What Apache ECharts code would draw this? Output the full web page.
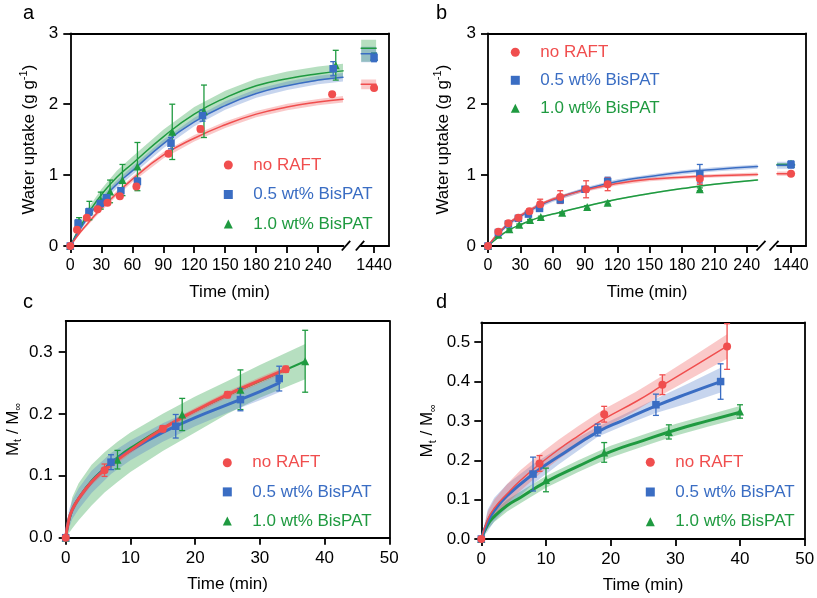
<!DOCTYPE html>
<html><head><meta charset="utf-8">
<script src="https://cdn.jsdelivr.net/npm/echarts@6/dist/echarts.min.js"></script>
<style>html,body{margin:0;padding:0;background:#fff}#c{width:817px;height:598px}</style>
</head><body><div id="c"></div>
<script>
// ---------------- DATA ----------------
const LEGEND_NAMES = ['no RAFT', '0.5 wt% BisPAT', '1.0 wt% BisPAT'];
const TIME_TICKS = [0, 30, 60, 90, 120, 150, 180, 210, 240];
const LONG_TICKS = [1440];
const CD_X_TICKS = [0, 10, 20, 30, 40, 50];
const AB_Y_TICKS = [0, 1, 2, 3];
const C_Y_TICKS = [0, 0.1, 0.2, 0.3];
const D_Y_TICKS = [0, 0.1, 0.2, 0.3, 0.4, 0.5];

// panel a : measured points
const aRedT = [0, 6.5, 16, 26.5, 36, 48, 64, 95, 126, 253.5];
const aRedY = [0, 0.23, 0.40, 0.52, 0.61, 0.70, 0.84, 1.30, 1.65, 2.14];
const aRedE = [0, 0.02, 0.02, 0.02, 0.02, 0.02, 0.03, 0.03, 0.04, 0.02];
const aBlueT = [0, 7.5, 18, 29, 35, 49, 65, 97.5, 128, 254.5];
const aBlueY = [0, 0.32, 0.48, 0.60, 0.68, 0.78, 0.91, 1.45, 1.84, 2.50];
const aBlueE = [0, 0.05, 0.05, 0.04, 0.04, 0.04, 0.05, 0.08, 0.08, 0.10];
const aGreenT = [0, 8.5, 18.5, 29.5, 38.5, 50.5, 65, 98.7, 129.4, 257];
const aGreenY = [0, 0.35, 0.50, 0.64, 0.77, 0.93, 1.12, 1.61, 1.90, 2.55];
const aGreenE = [0, 0.05, 0.13, 0.12, 0.16, 0.22, 0.34, 0.39, 0.37, 0.21];
// panel a : fitted curves and confidence bands
const aFitT = [0, 10, 20, 30, 45, 60, 90, 120, 150, 180, 210, 240, 264];
const aRedFit = [0, 0.20, 0.37, 0.53, 0.74, 0.94, 1.28, 1.52, 1.71, 1.86, 1.96, 2.03, 2.07];
const aRedLo = [0, 0.18, 0.34, 0.495, 0.70, 0.90, 1.235, 1.475, 1.665, 1.815, 1.915, 1.985, 2.025];
const aRedHi = [0, 0.22, 0.40, 0.565, 0.78, 0.98, 1.325, 1.565, 1.755, 1.905, 2.005, 2.075, 2.115];
const aBlueFit = [0, 0.25, 0.47, 0.64, 0.87, 1.06, 1.44, 1.75, 1.98, 2.15, 2.26, 2.34, 2.38];
const aBlueLo = [0, 0.22, 0.43, 0.59, 0.815, 1.0, 1.38, 1.69, 1.92, 2.09, 2.20, 2.28, 2.32];
const aBlueHi = [0, 0.28, 0.51, 0.69, 0.925, 1.12, 1.50, 1.81, 2.04, 2.21, 2.32, 2.40, 2.44];
const aGreenFit = [0, 0.28, 0.52, 0.72, 0.97, 1.16, 1.54, 1.86, 2.09, 2.26, 2.36, 2.43, 2.47];
const aGreenLo = [0, 0.23, 0.45, 0.64, 0.88, 1.06, 1.44, 1.76, 1.99, 2.16, 2.26, 2.33, 2.37];
const aGreenHi = [0, 0.33, 0.59, 0.80, 1.06, 1.26, 1.64, 1.96, 2.19, 2.36, 2.46, 2.53, 2.57];
// panel a : 1440 min segment
const aLongT = [1440];
const aLongRedY = [2.23], aLongRedE = [0.01];
const aLongBlueY = [2.66], aLongBlueE = [0.06];
const aLongGreenY = [2.67], aLongGreenE = [0.05];
const aPlatT = [1402, 1446];
const aPlatRedFit = [2.28, 2.28], aPlatRedLo = [2.21, 2.21], aPlatRedHi = [2.35, 2.35];
const aPlatBlueFit = [2.71, 2.71], aPlatBlueLo = [2.59, 2.59], aPlatBlueHi = [2.81, 2.81];
const aPlatGreenFit = [2.79, 2.79], aPlatGreenLo = [2.60, 2.60], aPlatGreenHi = [2.91, 2.91];

// panel b : measured points
const bRedT = [0, 9.6, 18.9, 28.2, 38.4, 48.4, 67, 91, 111, 196.5];
const bRedY = [0, 0.20, 0.32, 0.40, 0.49, 0.59, 0.69, 0.80, 0.87, 0.95];
const bRedE = [0, 0.02, 0.02, 0.02, 0.03, 0.07, 0.09, 0.12, 0.09, 0.08];
const bBlueT = [0, 9.6, 18.9, 28.2, 37.5, 47.8, 67, 90, 111, 196.5];
const bBlueY = [0, 0.19, 0.31, 0.39, 0.45, 0.53, 0.65, 0.80, 0.91, 1.02];
const bBlueE = [0, 0.02, 0.02, 0.02, 0.03, 0.03, 0.04, 0.03, 0.06, 0.13];
const bGreenT = [0, 9.6, 19.8, 29, 39, 49, 68.8, 92, 111, 196.5];
const bGreenY = [0, 0.16, 0.235, 0.30, 0.365, 0.41, 0.47, 0.55, 0.61, 0.80];
const bGreenE = [0, 0.01, 0.01, 0.01, 0.01, 0.01, 0.01, 0.02, 0.02, 0.02];
// panel b : fits
const bFitT = [0, 10, 20, 30, 45, 60, 90, 120, 150, 180, 210, 250];
const bRedFit = [0, 0.19, 0.33, 0.43, 0.56, 0.66, 0.79, 0.88, 0.94, 0.97, 0.99, 1.01];
const bRedLo = [0, 0.17, 0.305, 0.405, 0.535, 0.635, 0.765, 0.855, 0.915, 0.945, 0.965, 0.985];
const bRedHi = [0, 0.21, 0.355, 0.455, 0.585, 0.685, 0.815, 0.905, 0.965, 0.995, 1.015, 1.035];
const bBlueFit = [0, 0.18, 0.32, 0.42, 0.55, 0.65, 0.80, 0.91, 0.98, 1.04, 1.08, 1.12];
const bBlueLo = [0, 0.16, 0.295, 0.395, 0.52, 0.62, 0.77, 0.88, 0.95, 1.01, 1.05, 1.09];
const bBlueHi = [0, 0.20, 0.345, 0.445, 0.58, 0.68, 0.83, 0.94, 1.01, 1.07, 1.11, 1.15];
const bGreenFit = [0, 0.13, 0.23, 0.30, 0.39, 0.45, 0.56, 0.66, 0.74, 0.81, 0.87, 0.93];
const bGreenLo = [0, 0.12, 0.22, 0.29, 0.38, 0.44, 0.55, 0.65, 0.73, 0.80, 0.86, 0.92];
const bGreenHi = [0, 0.14, 0.24, 0.31, 0.40, 0.46, 0.57, 0.67, 0.75, 0.82, 0.88, 0.94];
// panel b : 1440 min segment
const bLongT = [1440];
const bLongRedY = [1.02], bLongRedE = [0.01];
const bLongBlueY = [1.15], bLongBlueE = [0.05];
const bLongGreenY = [1.16], bLongGreenE = [0.02];
const bPlatT = [1400, 1450];
const bPlatRedFit = [1.02, 1.02], bPlatRedLo = [0.99, 0.99], bPlatRedHi = [1.05, 1.05];
const bPlatBlueFit = [1.14, 1.14], bPlatBlueLo = [1.09, 1.09], bPlatBlueHi = [1.19, 1.19];
const bPlatGreenFit = [1.15, 1.15], bPlatGreenLo = [1.12, 1.12], bPlatGreenHi = [1.17, 1.17];

// panel c
const cRedT = [0, 6, 15, 25, 34];
const cRedY = [0, 0.109, 0.176, 0.231, 0.272];
const cRedE = [0, 0.010, 0.005, 0.005, 0.005];
const cBlueT = [0, 7, 17, 27, 33];
const cBlueY = [0, 0.122, 0.180, 0.223, 0.257];
const cBlueE = [0, 0.012, 0.019, 0.018, 0.020];
const cGreenT = [0, 8, 18, 27, 37];
const cGreenY = [0, 0.126, 0.199, 0.239, 0.285];
const cGreenE = [0, 0.015, 0.026, 0.032, 0.050];
const cRedFitT = [0, 0.5, 1, 2, 4, 6, 10, 15, 20, 25, 30, 34];
const cRedFit = [0, 0.030, 0.045, 0.063, 0.090, 0.109, 0.141, 0.176, 0.205, 0.231, 0.254, 0.272];
const cRedLo = [0, 0.026, 0.040, 0.058, 0.085, 0.104, 0.136, 0.171, 0.200, 0.226, 0.249, 0.267];
const cRedHi = [0, 0.034, 0.050, 0.068, 0.095, 0.114, 0.146, 0.181, 0.210, 0.236, 0.259, 0.277];
const cBlueFitT = [0, 0.5, 1, 2, 4, 7, 10, 15, 20, 25, 30, 33];
const cBlueFit = [0, 0.030, 0.045, 0.063, 0.090, 0.120, 0.141, 0.170, 0.194, 0.215, 0.236, 0.250];
const cBlueLo = [0, 0.015, 0.030, 0.046, 0.072, 0.103, 0.125, 0.155, 0.180, 0.202, 0.222, 0.235];
const cBlueHi = [0, 0.045, 0.060, 0.080, 0.108, 0.137, 0.157, 0.185, 0.208, 0.228, 0.250, 0.265];
const cGreenFitT = [0, 1, 2, 4, 6, 8, 10, 15, 20, 25, 30, 37];
const cGreenFit = [0, 0.045, 0.064, 0.092, 0.112, 0.130, 0.145, 0.177, 0.205, 0.230, 0.253, 0.285];
const cGreenLo = [0, 0.015, 0.028, 0.052, 0.073, 0.090, 0.106, 0.140, 0.170, 0.200, 0.226, 0.256];
const cGreenHi = [0, 0.065, 0.088, 0.118, 0.138, 0.155, 0.170, 0.200, 0.228, 0.253, 0.279, 0.313];

// panel d
const dRedT = [0, 9, 19, 28, 38];
const dRedY = [0, 0.192, 0.317, 0.392, 0.489];
const dRedE = [0, 0.020, 0.020, 0.025, 0.058];
const dBlueT = [0, 8, 18, 27, 37];
const dBlueY = [0, 0.165, 0.277, 0.341, 0.400];
const dBlueE = [0, 0.043, 0.015, 0.027, 0.045];
const dGreenT = [0, 10, 19, 29, 40];
const dGreenY = [0, 0.150, 0.220, 0.272, 0.324];
const dGreenE = [0, 0.030, 0.025, 0.018, 0.017];
const dRedFitT = [0, 1, 2, 4, 6, 9, 12, 15, 19, 24, 28, 33, 38];
const dRedFit = [0, 0.050, 0.078, 0.115, 0.148, 0.190, 0.228, 0.262, 0.305, 0.350, 0.390, 0.440, 0.490];
const dRedLo = [0, 0.030, 0.055, 0.090, 0.122, 0.165, 0.203, 0.237, 0.282, 0.327, 0.367, 0.413, 0.458];
const dRedHi = [0, 0.070, 0.100, 0.140, 0.174, 0.215, 0.253, 0.287, 0.330, 0.375, 0.415, 0.467, 0.520];
const dBlueFitT = [0, 1, 2, 4, 8, 12, 18, 22, 27, 32, 37];
const dBlueFit = [0, 0.045, 0.072, 0.110, 0.165, 0.210, 0.272, 0.302, 0.338, 0.370, 0.400];
const dBlueLo = [0, 0.020, 0.045, 0.080, 0.140, 0.190, 0.260, 0.288, 0.320, 0.345, 0.372];
const dBlueHi = [0, 0.075, 0.105, 0.140, 0.190, 0.232, 0.285, 0.316, 0.356, 0.395, 0.435];
const dGreenFitT = [0, 1, 2, 4, 6, 10, 15, 20, 25, 30, 35, 40];
const dGreenFit = [0, 0.037, 0.057, 0.085, 0.105, 0.145, 0.185, 0.222, 0.250, 0.277, 0.300, 0.322];
const dGreenLo = [0, 0.025, 0.043, 0.070, 0.090, 0.130, 0.170, 0.207, 0.235, 0.262, 0.285, 0.307];
const dGreenHi = [0, 0.050, 0.072, 0.100, 0.120, 0.160, 0.200, 0.237, 0.265, 0.292, 0.315, 0.338];

// ---------------- STYLE ----------------
const FONT = "'Liberation Sans', Arial, Helvetica, sans-serif";
const RED = '#f04e4e', BLUE = '#3a6dc3', GREEN = '#1f9a40';
const RED_BAND = 'rgba(240,90,90,0.33)', BLUE_BAND = 'rgba(70,115,200,0.30)', GREEN_BAND = 'rgba(40,160,70,0.34)';

function pts(t, y) { return t.map((x, i) => [x, y[i]]); }

function band(gi, t, lo, hi, fill) {
  return {
    type: 'custom', xAxisIndex: gi, yAxisIndex: gi, silent: true, z: 1, clip: true,
    data: t.map((x, i) => [x, lo[i], hi[i]]),
    encode: { x: 0, y: [1, 2] },
    renderItem: function (params, api) {
      if (params.dataIndex !== 0) return null;
      const up = [], dn = [];
      for (let i = 0; i < t.length; i++) {
        up.push(api.coord([t[i], hi[i]]));
        dn.push(api.coord([t[i], lo[i]]));
      }
      return { type: 'polygon', shape: { points: up.concat(dn.reverse()) }, style: { fill: fill } };
    }
  };
}
function fit(gi, t, y, color, w) {
  return {
    type: 'line', xAxisIndex: gi, yAxisIndex: gi, data: pts(t, y), showSymbol: false, symbol: 'none',
    smooth: 0.5, lineStyle: { color: color, width: w, cap: 'round', join: 'round' }, z: 2, silent: true
  };
}
function ebar(gi, t, y, e, color) {
  return {
    type: 'custom', xAxisIndex: gi, yAxisIndex: gi, z: 3, silent: true, clip: false,
    data: t.map((x, i) => [x, y[i] - e[i], y[i] + e[i]]),
    encode: { x: 0, y: [1, 2] },
    renderItem: function (params, api) {
      const x = api.value(0), lo = api.value(1), hi = api.value(2);
      if (hi - lo <= 0) return null;
      const p1 = api.coord([x, lo]), p2 = api.coord([x, hi]);
      const w = 3, s = { stroke: color, lineWidth: 1.3 };
      return {
        type: 'group', children: [
          { type: 'line', shape: { x1: p1[0], y1: p1[1], x2: p2[0], y2: p2[1] }, style: s },
          { type: 'line', shape: { x1: p1[0] - w, y1: p1[1], x2: p1[0] + w, y2: p1[1] }, style: s },
          { type: 'line', shape: { x1: p2[0] - w, y1: p2[1], x2: p2[0] + w, y2: p2[1] }, style: s }
        ]
      };
    }
  };
}
function marks(gi, name, t, y, sym, color, size) {
  return {
    type: 'scatter', name: name, xAxisIndex: gi, yAxisIndex: gi, data: pts(t, y), symbol: sym,
    symbolSize: size, itemStyle: { color: color, opacity: 1 }, z: 4, clip: false
  };
}

const LINE = { show: true, onZero: false, lineStyle: { color: '#000', width: 1.8 } };
const NAME_STYLE = { fontSize: 17, color: '#000', fontFamily: FONT };
function valueAxis(o) {
  return Object.assign({
    type: 'value', splitLine: { show: false }, axisLine: LINE,
    axisTick: { show: false }, axisLabel: { show: false }
  }, o);
}
function tickAxis(o, vals, margin, fmt, fs) {
  return valueAxis(Object.assign({
    axisTick: { show: true, length: 7, lineStyle: { color: '#000', width: 1.8 }, customValues: vals },
    axisLabel: { show: true, customValues: vals, margin: margin, fontSize: fs || 16, color: '#000', fontFamily: FONT, formatter: fmt }
  }, o));
}
const fmt1 = v => Number(v).toFixed(1);
const fmt0 = v => String(v);

const WU_NAME = '{n|Water uptake (g g}{s|-1}{n|)}';
const WU_STYLE = {
  fontSize: 17, color: '#000', fontFamily: FONT,
  rich: {
    n: { fontSize: 17, lineHeight: 22, color: '#000', fontFamily: FONT },
    s: { fontSize: 11, lineHeight: 11, verticalAlign: 'top', color: '#000', fontFamily: FONT }
  }
};
const MT_NAME = '{n|M}{b|t}{n| / M}{b|∞}';
const MT_STYLE = {
  fontSize: 17, color: '#000', fontFamily: FONT,
  rich: {
    n: { fontSize: 17, lineHeight: 21, color: '#000', fontFamily: FONT },
    b: { fontSize: 11, lineHeight: 11, verticalAlign: 'bottom', color: '#000', fontFamily: FONT }
  }
};

const grids = [
  { left: 70.3, top: 33.3, width: 318.7, height: 212.7 },  // 0 frame a
  { left: 70.3, top: 33.3, width: 273.2, height: 212.7 },  // 1 a main
  { left: 360.5, top: 33.3, width: 28.5, height: 212.7 },  // 2 a 1440
  { left: 488, top: 33.3, width: 318, height: 212.7 },     // 3 frame b
  { left: 488, top: 33.3, width: 269.5, height: 212.7 },   // 4 b main
  { left: 777, top: 33.3, width: 29, height: 212.7 },      // 5 b 1440
  { left: 65.7, top: 321, width: 323.6, height: 216.7 },   // 6 c
  { left: 481.3, top: 322.5, width: 323.4, height: 216.5 } // 7 d
].map(g => Object.assign({ containLabel: false, outerBoundsMode: 'none', show: false }, g));

const xAxes = [
  valueAxis({ gridIndex: 0, min: 0, max: 1, axisLine: { show: false }, name: 'Time (min)', nameLocation: 'middle', nameGap: 38, nameTextStyle: NAME_STYLE }),
  tickAxis({ gridIndex: 1, min: 0, max: 264.5 }, TIME_TICKS, 12, fmt0),
  tickAxis({ gridIndex: 2, min: 1400, max: 1484 }, LONG_TICKS, 12, fmt0),
  valueAxis({ gridIndex: 3, min: 0, max: 1, axisLine: { show: false }, name: 'Time (min)', nameLocation: 'middle', nameGap: 38, nameTextStyle: NAME_STYLE }),
  tickAxis({ gridIndex: 4, min: 0, max: 250 }, TIME_TICKS, 12, fmt0),
  tickAxis({ gridIndex: 5, min: 1400, max: 1483 }, LONG_TICKS, 12, fmt0),
  tickAxis({ gridIndex: 6, min: 0, max: 50, name: 'Time (min)', nameLocation: 'middle', nameGap: 38, nameTextStyle: NAME_STYLE }, CD_X_TICKS, 12, fmt0, 17),
  tickAxis({ gridIndex: 7, min: 0, max: 50, name: 'Time (min)', nameLocation: 'middle', nameGap: 38, nameTextStyle: NAME_STYLE }, CD_X_TICKS, 12, fmt0, 17),
  valueAxis({ gridIndex: 0, min: 0, max: 1, position: 'top' }),
  valueAxis({ gridIndex: 3, min: 0, max: 1, position: 'top' }),
  valueAxis({ gridIndex: 6, min: 0, max: 1, position: 'top' }),
  valueAxis({ gridIndex: 7, min: 0, max: 1, position: 'top' })
];
const yAxes = [
  valueAxis({ gridIndex: 0, min: 0, max: 3, position: 'right' }),
  tickAxis({ gridIndex: 1, min: 0, max: 3, position: 'left', name: WU_NAME, nameLocation: 'middle', nameGap: 30, nameRotate: 90, nameTextStyle: WU_STYLE }, AB_Y_TICKS, 12, fmt0, 17),
  valueAxis({ gridIndex: 2, min: 0, max: 3, show: false }),
  valueAxis({ gridIndex: 3, min: 0, max: 3, position: 'right' }),
  tickAxis({ gridIndex: 4, min: 0, max: 3, position: 'left', name: WU_NAME, nameLocation: 'middle', nameGap: 34, nameRotate: 90, nameTextStyle: WU_STYLE }, AB_Y_TICKS, 12, fmt0, 17),
  valueAxis({ gridIndex: 5, min: 0, max: 3, show: false }),
  tickAxis({ gridIndex: 6, min: 0, max: 0.35, position: 'left', name: MT_NAME, nameLocation: 'middle', nameGap: 42, nameRotate: 90, nameTextStyle: MT_STYLE }, C_Y_TICKS, 13, fmt1, 17),
  tickAxis({ gridIndex: 7, min: 0, max: 0.55, position: 'left', name: MT_NAME, nameLocation: 'middle', nameGap: 43, nameRotate: 90, nameTextStyle: MT_STYLE }, D_Y_TICKS, 11, fmt1, 17),
  valueAxis({ gridIndex: 6, min: 0, max: 0.35, position: 'right' }),
  valueAxis({ gridIndex: 7, min: 0, max: 0.55, position: 'right' })
];

const series = [
  // ---- panel a
  band(1, aFitT, aGreenLo, aGreenHi, GREEN_BAND),
  band(1, aFitT, aBlueLo, aBlueHi, BLUE_BAND),
  band(1, aFitT, aRedLo, aRedHi, RED_BAND),
  band(2, aPlatT, aPlatGreenLo, aPlatGreenHi, GREEN_BAND),
  band(2, aPlatT, aPlatBlueLo, aPlatBlueHi, BLUE_BAND),
  band(2, aPlatT, aPlatRedLo, aPlatRedHi, RED_BAND),
  fit(1, aFitT, aGreenFit, GREEN, 1.5),
  fit(1, aFitT, aBlueFit, BLUE, 1.5),
  fit(1, aFitT, aRedFit, RED, 1.5),
  fit(2, aPlatT, aPlatGreenFit, GREEN, 1.5),
  fit(2, aPlatT, aPlatBlueFit, BLUE, 1.5),
  fit(2, aPlatT, aPlatRedFit, RED, 1.5),
  ebar(1, aGreenT, aGreenY, aGreenE, GREEN),
  ebar(1, aBlueT, aBlueY, aBlueE, BLUE),
  ebar(1, aRedT, aRedY, aRedE, RED),
  ebar(2, aLongT, aLongGreenY, aLongGreenE, GREEN),
  ebar(2, aLongT, aLongBlueY, aLongBlueE, BLUE),
  marks(1, LEGEND_NAMES[2], aGreenT, aGreenY, 'triangle', GREEN, 8),
  marks(1, LEGEND_NAMES[1], aBlueT, aBlueY, 'rect', BLUE, 7.5),
  marks(1, LEGEND_NAMES[0], aRedT, aRedY, 'circle', RED, 8),
  marks(2, LEGEND_NAMES[2], aLongT, aLongGreenY, 'triangle', GREEN, 8),
  marks(2, LEGEND_NAMES[1], aLongT, aLongBlueY, 'rect', BLUE, 7.5),
  marks(2, LEGEND_NAMES[0], aLongT, aLongRedY, 'circle', RED, 8),
  // ---- panel b
  band(4, bFitT, bGreenLo, bGreenHi, GREEN_BAND),
  band(4, bFitT, bBlueLo, bBlueHi, BLUE_BAND),
  band(4, bFitT, bRedLo, bRedHi, RED_BAND),
  band(5, bPlatT, bPlatGreenLo, bPlatGreenHi, GREEN_BAND),
  band(5, bPlatT, bPlatBlueLo, bPlatBlueHi, BLUE_BAND),
  band(5, bPlatT, bPlatRedLo, bPlatRedHi, RED_BAND),
  fit(4, bFitT, bGreenFit, GREEN, 1.5),
  fit(4, bFitT, bBlueFit, BLUE, 1.5),
  fit(4, bFitT, bRedFit, RED, 1.5),
  fit(5, bPlatT, bPlatGreenFit, GREEN, 1.5),
  fit(5, bPlatT, bPlatBlueFit, BLUE, 1.5),
  fit(5, bPlatT, bPlatRedFit, RED, 1.5),
  ebar(4, bGreenT, bGreenY, bGreenE, GREEN),
  ebar(4, bBlueT, bBlueY, bBlueE, BLUE),
  ebar(4, bRedT, bRedY, bRedE, RED),
  ebar(5, bLongT, bLongGreenY, bLongGreenE, GREEN),
  ebar(5, bLongT, bLongBlueY, bLongBlueE, BLUE),
  marks(4, LEGEND_NAMES[2], bGreenT, bGreenY, 'triangle', GREEN, 8),
  marks(4, LEGEND_NAMES[1], bBlueT, bBlueY, 'rect', BLUE, 7.5),
  marks(4, LEGEND_NAMES[0], bRedT, bRedY, 'circle', RED, 8),
  marks(5, LEGEND_NAMES[2], bLongT, bLongGreenY, 'triangle', GREEN, 8),
  marks(5, LEGEND_NAMES[1], bLongT, bLongBlueY, 'rect', BLUE, 7.5),
  marks(5, LEGEND_NAMES[0], bLongT, bLongRedY, 'circle', RED, 8),
  // ---- panel c
  band(6, cGreenFitT, cGreenLo, cGreenHi, GREEN_BAND),
  band(6, cBlueFitT, cBlueLo, cBlueHi, BLUE_BAND),
  band(6, cRedFitT, cRedLo, cRedHi, RED_BAND),
  fit(6, cGreenFitT, cGreenFit, GREEN, 2),
  fit(6, cBlueFitT, cBlueFit, BLUE, 3),
  fit(6, cRedFitT, cRedFit, RED, 3),
  ebar(6, cGreenT, cGreenY, cGreenE, GREEN),
  ebar(6, cBlueT, cBlueY, cBlueE, BLUE),
  ebar(6, cRedT, cRedY, cRedE, RED),
  marks(6, LEGEND_NAMES[2], cGreenT, cGreenY, 'triangle', GREEN, 8),
  marks(6, LEGEND_NAMES[1], cBlueT, cBlueY, 'rect', BLUE, 7.5),
  marks(6, LEGEND_NAMES[0], cRedT, cRedY, 'circle', RED, 8),
  // ---- panel d
  band(7, dGreenFitT, dGreenLo, dGreenHi, GREEN_BAND),
  band(7, dBlueFitT, dBlueLo, dBlueHi, BLUE_BAND),
  band(7, dRedFitT, dRedLo, dRedHi, RED_BAND),
  fit(7, dGreenFitT, dGreenFit, GREEN, 3),
  fit(7, dBlueFitT, dBlueFit, BLUE, 3),
  fit(7, dRedFitT, dRedFit, RED, 1.5),
  ebar(7, dGreenT, dGreenY, dGreenE, GREEN),
  ebar(7, dBlueT, dBlueY, dBlueE, BLUE),
  ebar(7, dRedT, dRedY, dRedE, RED),
  marks(7, LEGEND_NAMES[2], dGreenT, dGreenY, 'triangle', GREEN, 8),
  marks(7, LEGEND_NAMES[1], dBlueT, dBlueY, 'rect', BLUE, 7.5),
  marks(7, LEGEND_NAMES[0], dRedT, dRedY, 'circle', RED, 8)
];

const LEG_ICONS = ['circle', 'rect', 'triangle'];
const LEG_COLORS = [RED, BLUE, GREEN];
function legendAt(left, top, gap) {
  return {
    left: left, top: top, orient: 'vertical', itemWidth: 9, itemHeight: 9, itemGap: gap,
    selectedMode: false, padding: 0,
    textStyle: { fontSize: 17, fontFamily: FONT, lineHeight: 18, padding: [0, 0, 0, 15.5] },
    data: LEGEND_NAMES.map((n, i) => ({ name: n, icon: LEG_ICONS[i], textStyle: { color: LEG_COLORS[i] } }))
  };
}

const letterStyle = { fontSize: 20, fontWeight: 'normal', color: '#000', fontFamily: FONT };
const slash = (x1, y1, x2, y2) => ({ type: 'line', shape: { x1, y1, x2, y2 }, style: { stroke: '#000', lineWidth: 1.8 }, z: 100 });

const option = {
  animation: false,
  backgroundColor: '#fff',
  title: [
    { text: 'a', left: 23, top: 3, padding: 0, textStyle: letterStyle },
    { text: 'b', left: 436, top: 3, padding: 0, textStyle: letterStyle },
    { text: 'c', left: 23, top: 292, padding: 0, textStyle: letterStyle },
    { text: 'd', left: 436, top: 292, padding: 0, textStyle: letterStyle }
  ],
  legend: [legendAt(223.8, 156, 11.5), legendAt(510.8, 43.3, 10), legendAt(222.8, 453.7, 11.2), legendAt(645.8, 453.3, 11.7)],
  grid: grids,
  xAxis: xAxes,
  yAxis: yAxes,
  series: series,
  graphic: [
    slash(341.8, 250.5, 350.2, 240.8), slash(355.8, 250.5, 364.2, 240.8),
    slash(756.5, 250.5, 765.5, 240.8), slash(769.5, 250.5, 778.5, 240.8)
  ]
};

const chart = echarts.init(document.getElementById('c'), null, { renderer: 'canvas' });
chart.setOption(option);
</script></body></html>
